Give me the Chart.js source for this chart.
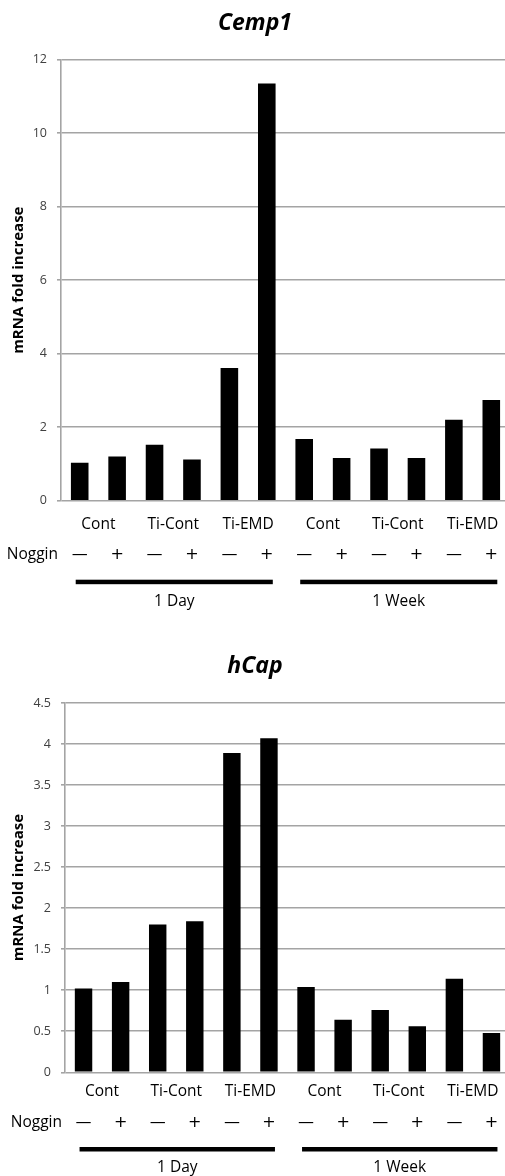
<!DOCTYPE html>
<html>
<head>
<meta charset="utf-8">
<script src="https://cdn.jsdelivr.net/npm/chart.js@4.4.1/dist/chart.umd.min.js"></script>
<style>
  html, body { margin: 0; padding: 0; background: #fff; overflow: hidden; width: 505px; height: 1176px; }
  .box { position: absolute; left: 0; }
  canvas { display: block; }
</style>
</head>
<body>
<div class="box" style="top:0"><canvas id="cemp1Chart" width="512" height="620"></canvas></div>
<div class="box" style="top:620px"><canvas id="hcapChart" width="512" height="556"></canvas></div>
<script>
const treatments = ['Cont', 'Ti-Cont', 'Ti-EMD', 'Cont', 'Ti-Cont', 'Ti-EMD'];
const noggin = ['\u2014', '+', '\u2014', '+', '\u2014', '+', '\u2014', '+', '\u2014', '+', '\u2014', '+'];
const timepoints = ['1 Day', '1 Week'];
const cemp1Values = [1.03, 1.2, 1.52, 1.12, 3.61, 11.35, 1.68, 1.16, 1.42, 1.16, 2.2, 2.74];
const hcapValues = [1.02, 1.1, 1.8, 1.84, 3.89, 4.07, 1.04, 0.64, 0.76, 0.56, 1.14, 0.48];

const labels = noggin.map((n, i) => treatments[Math.floor(i / 2)] + ' ' + n);
const FONT = "'Open Sans', 'DejaVu Sans', sans-serif";

// draws the treatment / noggin / time point rows under the plot
const groupLabels = {
  id: 'groupLabels',
  afterDraw(chart, args, opts) {
    const { ctx, chartArea } = chart;
    const x = chart.scales.x;
    const b = chartArea.bottom;
    ctx.save();
    ctx.fillStyle = '#000';
    ctx.textBaseline = 'middle';
    ctx.textAlign = 'center';
    ctx.font = '15.5px ' + FONT;
    treatments.forEach((t, i) => {
      const cx = (x.getPixelForValue(2 * i) + x.getPixelForValue(2 * i + 1)) / 2;
      ctx.fillText(t, cx, b + opts.catY);
    });
    ctx.textAlign = 'right';
    ctx.fillText('Noggin', chartArea.left - 3, b + opts.nogY);
    ctx.textAlign = 'center';
    ctx.font = "16px 'DejaVu Sans', sans-serif";
    noggin.forEach((n, i) => {
      ctx.fillText(n, x.getPixelForValue(i), b + opts.nogY);
    });
    ctx.font = '15.5px ' + FONT;
    timepoints.forEach((t, g) => {
      const x0 = x.getPixelForValue(g * 6) - 4;
      const x1 = x.getPixelForValue(g * 6 + 5) + 6;
      ctx.fillRect(x0, b + opts.lineY - 2, x1 - x0, 4.5);
      ctx.fillText(t, (x0 + x1) / 2, b + opts.dayY);
    });
    ctx.restore();
  }
};

function makeChart(id, title, values, max, step, geo) {
  return new Chart(document.getElementById(id), {
    type: 'bar',
    data: {
      labels: labels,
      datasets: [{
        data: values,
        backgroundColor: '#000',
        categoryPercentage: 1,
        barPercentage: 0.47
      }]
    },
    plugins: [groupLabels],
    options: {
      responsive: false,
      animation: false,
      layout: { padding: { left: 0, right: 2, top: 0, bottom: geo.bottom } },
      plugins: {
        legend: { display: false },
        tooltip: { enabled: false },
        title: {
          display: true,
          text: title,
          color: '#000',
          font: { family: FONT, size: 23, weight: 'bold', style: 'italic', lineHeight: 1.2 },
          padding: { top: geo.titleTop, bottom: geo.titleBottom }
        },
        groupLabels: geo.rows
      },
      scales: {
        x: {
          ticks: { display: false },
          grid: { display: false },
          border: { display: false },
          afterFit: s => { s.height = 0; }
        },
        y: {
          min: 0,
          max: max,
          ticks: {
            stepSize: step,
            color: '#404040',
            padding: 10,
            font: { family: FONT, size: 12.5 },
            callback: v => String(Math.round(v * 10) / 10)
          },
          grid: { color: '#a4a4a4', lineWidth: 1.6, tickLength: 4 },
          border: { color: '#a4a4a4', width: 1.6 },
          title: {
            display: true,
            text: 'mRNA fold increase',
            color: '#000',
            font: { family: FONT, size: 15, weight: 'bold', lineHeight: 1.2 },
            padding: { top: 10, bottom: 0 }
          },
          afterFit: s => { s.width = geo.left; }
        }
      }
    }
  });
}

makeChart('cemp1Chart', 'Cemp1', cemp1Values, 12, 2, {
  left: 61, bottom: 119.3, titleTop: 9.9, titleBottom: 22.2,
  rows: { catY: 24.3, nogY: 54.3, lineY: 81, dayY: 101 }
});
makeChart('hcapChart', 'hCap', hcapValues, 4.5, 0.5, {
  left: 65, bottom: 103.7, titleTop: 32.9, titleBottom: 22.5,
  rows: { catY: 19.7, nogY: 50.7, lineY: 76.7, dayY: 95.7 }
});
</script>
</body>
</html>
